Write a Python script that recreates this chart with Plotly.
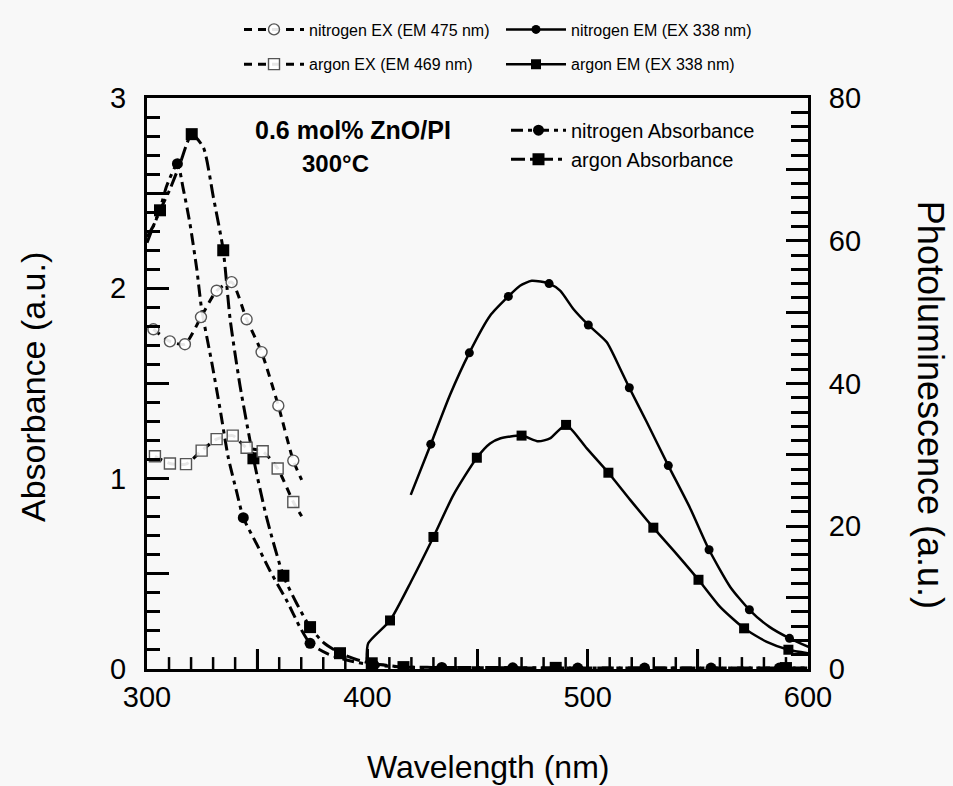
import plotly.graph_objects as go

# ---------------- data ----------------
# Absorbance (left axis)
n_abs_x = [300, 303, 306, 309, 313.8, 316.5, 319.5, 322.6, 324.8, 329.4, 333.1, 336.9, 340.7, 343.7,
           349.8, 355.8, 363.4, 369.4, 374, 381.6, 390.6, 403, 420, 433.8, 466, 495.5, 525.8, 556, 587, 600]
n_abs_y = [2.24, 2.33, 2.42, 2.54, 2.655, 2.52, 2.34, 2.10, 1.89, 1.61, 1.37, 1.11, 0.93, 0.795,
           0.656, 0.516, 0.36, 0.22, 0.135, 0.082, 0.047, 0.02, 0.01, 0.008, 0.006, 0.005, 0.005, 0.005, 0.005, 0.005]
n_abs_mx = [313.8, 343.7, 374, 403, 433.8, 466, 495.5, 525.8, 556, 587]
n_abs_my = [2.655, 0.795, 0.135, 0.02, 0.008, 0.006, 0.005, 0.005, 0.005, 0.005]

a_abs_x = [300, 303, 305.9, 310.4, 315, 320.3, 325.6, 330.1, 334.6, 337.7, 342.2, 348.3, 354.3, 361.9,
           368, 374, 380, 387.6, 395, 402, 416.4, 450, 485.5, 520, 560, 590, 600]
a_abs_y = [2.27, 2.33, 2.41, 2.52, 2.655, 2.81, 2.74, 2.48, 2.20, 1.84, 1.49, 1.107, 0.795, 0.49,
           0.343, 0.22, 0.14, 0.083, 0.05, 0.03, 0.01, 0.008, 0.006, 0.005, 0.005, 0.005, 0.005]
a_abs_mx = [305.9, 320.3, 334.6, 348.3, 361.9, 374, 387.6, 402, 416.4, 485.5, 590]
a_abs_my = [2.41, 2.81, 2.20, 1.107, 0.49, 0.22, 0.083, 0.03, 0.01, 0.006, 0.005]

# Photoluminescence excitation (right axis)
n_ex_x = [302.9, 310.4, 317.2, 324.5, 331.6, 338.4, 345.2, 352.0, 359.6, 366.4, 370.2]
n_ex_y = [47.6, 45.9, 45.5, 49.3, 53.0, 54.2, 49.0, 44.4, 36.9, 29.2, 26.5]
n_ex_mx = [302.9, 310.4, 317.2, 324.5, 331.6, 338.4, 345.2, 352.0, 359.6, 366.4]
n_ex_my = [47.6, 45.9, 45.5, 49.3, 53.0, 54.2, 49.0, 44.4, 36.9, 29.2]

a_ex_x = [303.6, 310.4, 317.7, 324.8, 331.6, 338.9, 345.2, 352.5, 359.3, 366.4, 370.2]
a_ex_y = [29.8, 28.8, 28.7, 30.6, 32.2, 32.7, 31.0, 30.5, 28.1, 23.4, 21.4]
a_ex_mx = [303.6, 310.4, 317.7, 324.8, 331.6, 338.9, 345.2, 352.5, 359.3, 366.4]
a_ex_my = [29.8, 28.8, 28.7, 30.6, 32.2, 32.7, 31.0, 30.5, 28.1, 23.4]

# Photoluminescence emission (right axis)
n_em_x = [419.7, 428.8, 437.5, 446.3, 455.7, 464, 469.3, 474.6, 482.5, 487.5, 493.6, 500.3, 508.6,
          514.7, 518.9, 526.8, 536.6, 546.4, 555.1, 564.7, 573.4, 582.5, 591.6, 600.2]
n_em_y = [24.4, 31.5, 38.4, 44.3, 49.5, 52.2, 53.7, 54.4, 54.0, 53.0, 50.4, 48.2, 45.8,
          42.1, 39.4, 34.6, 28.5, 22.6, 16.7, 11.5, 8.3, 5.9, 4.3, 3.1]
n_em_mx = [428.8, 446.3, 464, 482.5, 500.3, 518.9, 536.6, 555.1, 573.4, 591.6]
n_em_my = [31.5, 44.3, 52.2, 54.0, 48.2, 39.4, 28.5, 16.7, 8.3, 4.3]

a_em_x = [399.7, 400.4, 410.3, 420.1, 430, 439.1, 449.7, 455.7, 460.2, 470, 477.6, 482.9, 490.2,
          499.6, 509.4, 519.3, 529.8, 540.4, 550.3, 560.1, 571, 581.3, 591.1, 600.2]
a_em_y = [1.2, 3.6, 6.8, 12.4, 18.5, 24.4, 29.6, 31.6, 32.3, 32.7, 31.9, 32.3, 34.2,
          30.9, 27.5, 23.7, 19.8, 16.1, 12.5, 8.7, 5.7, 3.8, 2.7, 2.2]
a_em_mx = [410.3, 430, 449.7, 470, 490.2, 509.4, 529.8, 550.3, 571, 591.1]
a_em_my = [6.8, 18.5, 29.6, 32.7, 34.2, 27.5, 19.8, 12.5, 5.7, 2.7]

# unlabeled major tick positions (labels hidden)
x_hidden_labels = ["350", "450", "550"]
y_hidden_labels = ["0.5", "1.5", "2.5"]
y2_hidden_labels = ["10", "30", "50", "70"]

# ---------------- figure ----------------
FONT = "Liberation Sans, Arial, sans-serif"
W, H = 953, 786
L, R, T, B = 147, 808, 94, 669
Y_MAX = 3.0


def px(xp):
    return (xp - L) / (R - L)


def py(yp):
    return (B - yp) / (B - T)


fig = go.Figure()

ABS_N_DASH = "12px,5px,4px,5px"
ABS_A_DASH = "14px,5px,4px,5px"
EX_DASH = "8px,6px"

# bottom-axis tick marks (inside): major every 50 nm, minor every 10 nm, drawn on the left-axis scale
tick_x, tick_y = [], []
for v in range(310, 600, 10):
    ln_px = 20 if v % 50 == 0 else 12
    tick_x += [v, v, None]
    tick_y += [0, ln_px / (B - T) * Y_MAX, None]
fig.add_trace(go.Scatter(x=tick_x, y=tick_y, mode="lines", line=dict(color="black", width=2.5),
                         showlegend=False, hoverinfo="skip"))


def add_series(x, y, mx, my, yaxis, dash, lw, symbol, msize, mcolor, mline, legend, name):
    fig.add_trace(go.Scatter(x=x, y=y, yaxis=yaxis, mode="lines", line=dict(color="black", width=lw, dash=dash,
                                                                              shape="spline", smoothing=0.6),
                             showlegend=False, hoverinfo="skip"))
    fig.add_trace(go.Scatter(x=mx, y=my, yaxis=yaxis, mode="markers",
                             marker=dict(symbol=symbol, size=msize, color=mcolor, line=mline),
                             showlegend=False))
    fig.add_trace(go.Scatter(x=[None], y=[None], yaxis=yaxis, mode="lines+markers", name=name,
                             line=dict(color="black", width=lw, dash=dash),
                             marker=dict(symbol=symbol, size=msize, color=mcolor, line=mline),
                             legend=legend, showlegend=True))


add_series(n_abs_x, n_abs_y, n_abs_mx, n_abs_my, "y", ABS_N_DASH, 3, "circle", 11, "black",
           dict(color="black", width=0), "legend5", "nitrogen Absorbance")
add_series(a_abs_x, a_abs_y, a_abs_mx, a_abs_my, "y", ABS_A_DASH, 3, "square", 12, "black",
           dict(color="black", width=0), "legend5", "argon Absorbance")
add_series(n_ex_x, n_ex_y, n_ex_mx, n_ex_my, "y2", EX_DASH, 3, "circle", 11, "rgba(255,255,255,0.9)",
           dict(color="#555", width=1.4), "legend", "nitrogen EX (EM 475 nm)")
add_series(a_ex_x, a_ex_y, a_ex_mx, a_ex_my, "y2", EX_DASH, 3, "square", 11, "rgba(255,255,255,0.9)",
           dict(color="#555", width=1.4), "legend3", "argon EX (EM 469 nm)")
add_series(n_em_x, n_em_y, n_em_mx, n_em_my, "y2", "solid", 2.5, "circle", 9, "black",
           dict(color="black", width=0), "legend2", "nitrogen EM (EX 338 nm)")
add_series(a_em_x, a_em_y, a_em_mx, a_em_my, "y2", "solid", 2.5, "square", 10, "black",
           dict(color="black", width=0), "legend4", "argon EM (EX 338 nm)")

tickfont = dict(family=FONT, size=29, color="black")

fig.update_layout(
    width=W, height=H,
    margin=dict(l=L, r=W - R, t=T, b=H - B, pad=0),
    paper_bgcolor="#f8f8f8", plot_bgcolor="#f8f8f8",
    font=dict(family=FONT, color="black"),
    xaxis=dict(range=[300, 600], tickmode="linear", tick0=300, dtick=50, anchor="y",
               labelalias={k: "" for k in x_hidden_labels},
               showline=True, linecolor="black", linewidth=3, mirror=True,
               ticks="inside", ticklen=20, tickwidth=2.5, tickcolor="black",
               showgrid=False, zeroline=False, tickfont=tickfont),
    yaxis=dict(range=[0, Y_MAX], tickmode="linear", tick0=0, dtick=0.5, anchor="x",
               labelalias={k: "" for k in y_hidden_labels},
               showline=True, linecolor="black", linewidth=3,
               ticks="inside", ticklen=22, tickwidth=2.5, tickcolor="black",
               showgrid=False, zeroline=False, tickfont=tickfont, ticklabelstandoff=12,
               minor=dict(dtick=0.1, tick0=0, ticks="inside", ticklen=13, tickwidth=2.5, tickcolor="black",
                          showgrid=False)),
    yaxis2=dict(range=[0, 80], overlaying="y", side="right", tickmode="linear", tick0=0, dtick=10, anchor="x",
                labelalias={k: "" for k in y2_hidden_labels},
                showline=True, linecolor="black", linewidth=3,
                ticks="inside", ticklen=22, tickwidth=2.5, tickcolor="black",
                showgrid=False, zeroline=False, tickfont=tickfont, ticklabelstandoff=12,
                minor=dict(dtick=2, tick0=0, ticks="inside", ticklen=17, tickwidth=2.5, tickcolor="black",
                           showgrid=False)),
)

leg_common = dict(orientation="h", bgcolor="rgba(0,0,0,0)", borderwidth=0, itemwidth=60,
                  font=dict(family=FONT, size=16, color="black"), xanchor="left", yanchor="middle",
                  itemclick=False, itemdoubleclick=False)
fig.update_layout(
    legend=dict(x=px(239), y=py(25), **leg_common),
    legend2=dict(x=px(501), y=py(25), **leg_common),
    legend3=dict(x=px(239), y=py(60), **leg_common),
    legend4=dict(x=px(501), y=py(60), **leg_common),
    legend5=dict(x=px(506), y=py(141), orientation="v", bgcolor="rgba(0,0,0,0)", borderwidth=0,
                 itemwidth=55, font=dict(family=FONT, size=20, color="black"), xanchor="left",
                 yanchor="middle", tracegroupgap=0),
)

ann = [
    dict(text="Absorbance (a.u.)", x=px(33), y=py(385), textangle=-90, font=dict(size=34)),
    dict(text="Photoluminescence (a.u.)", x=px(930), y=py(403), textangle=90, font=dict(size=36)),
    dict(text="Wavelength (nm)", x=px(488), y=py(768), font=dict(size=32)),
    dict(text="<b>0.6 mol% ZnO/PI</b>", x=px(353), y=py(126), font=dict(size=25)),
    dict(text="<b>300°C</b>", x=px(335), y=py(160), font=dict(size=24)),
]
for a in ann:
    a.update(xref="paper", yref="paper", showarrow=False, xanchor="center", yanchor="middle")
    a["font"].update(family=FONT, color="black")
fig.update_layout(annotations=ann)

fig.write_html("out.html")
